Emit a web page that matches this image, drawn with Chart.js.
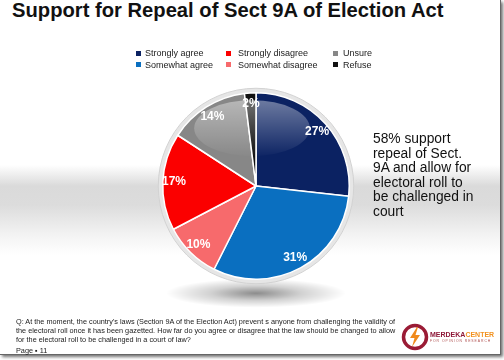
<!DOCTYPE html>
<html>
<head>
<meta charset="utf-8">
<script src="https://cdn.jsdelivr.net/npm/chart.js@4/dist/chart.umd.min.js"></script>
<style>
  html, body { margin:0; padding:0; }
  body { width:504px; height:360px; position:relative; overflow:hidden; background:#fff; font-family:"Liberation Sans", Arial, sans-serif; }
  #slide { position:absolute; left:0; top:0; width:500px; height:354px;
    background: linear-gradient(to bottom, #fff 0px, #fff 165px, #dadada 186px, #dcdcdc 205px, #f3f3f3 235px, #fff 255px, #fff 354px);
    border-right:1px solid #666; border-bottom:1px solid #666;
    box-shadow: 2px 2px 3px rgba(0,0,0,0.55); }
  #title { position:absolute; left:12px; top:0px; font-weight:bold; font-size:20.2px; line-height:20px; color:#111; white-space:nowrap; }
  #chart { position:absolute; left:0; top:0; }
  .leg { position:absolute; font-size:9px; line-height:10px; color:#222; white-space:nowrap; }
  .sw { position:absolute; width:5px; height:5px; }
  #note { position:absolute; left:373px; top:132px; font-size:13.8px; line-height:14.6px; color:#111; }
  #q { position:absolute; left:16px; top:317px; font-size:7.3px; line-height:9.2px; color:#222; white-space:nowrap; }
  #page { position:absolute; left:16px; top:346px; font-size:7.3px; line-height:9px; color:#222; }
  #logo { position:absolute; left:401px; top:323px; }
  #lt1 { position:absolute; left:430px; top:331px; font-size:7px; font-weight:bold; line-height:8px; white-space:nowrap; }
  #lt2 { position:absolute; left:430px; top:339px; font-size:3.4px; line-height:4px; letter-spacing:0.95px; color:#b05050; white-space:nowrap; }
</style>
</head>
<body>
<div id="slide"></div>
<div id="title">Support for Repeal of Sect 9A of Election Act</div>
<canvas id="chart" width="504" height="360"></canvas>
<div id="legend"></div>
<div id="note"></div>
<div id="q"></div>
<div id="page">Page ▪ 11</div>
<svg id="logo" width="28" height="28" viewBox="0 0 28 28">
  <circle cx="14" cy="14" r="11.5" fill="none" stroke="#9a1b35" stroke-width="3.5"/>
  <polygon points="16,4 9,15 13.5,15 11,24 19,12 14.5,12 17,4" fill="#f08a1c"/>
</svg>
<div id="lt1"><span style="color:#8e1838">MERDEKA</span><span style="color:#f29220">CENTER</span></div>
<div id="lt2">FOR OPINION RESEARCH</div>
<script>
// ---- data ----
const categories = ["Strongly agree", "Somewhat agree", "Somewhat disagree", "Strongly disagree", "Unsure", "Refuse"];
const values = [27, 31, 10, 17, 14, 2];
const colors = ["#0b2262", "#0a6fc0", "#f76a6c", "#fb0000", "#878787", "#111111"];
// legend order in three columns (index into categories)
const legendOrder = [0, 3, 4, 1, 2, 5];
const noteLines = ["58% support", "repeal of Sect.", "9A and allow for", "electoral roll to", "be challenged in", "court"];
const questionLines = [
  "Q: At the moment, the country's laws (Section 9A of the Election Act) prevent s anyone from challenging the validity of",
  "the electoral roll once it has been gazetted. How far do you agree or disagree that the law should be changed to allow",
  "for the electoral roll to be challenged in a court of law?"
];

// ---- html texts ----
document.getElementById('note').innerHTML = noteLines.join('<br>');
document.getElementById('q').innerHTML = questionLines.join('<br>');
const legCols = [{sx:136, tx:145}, {sx:226, tx:238}, {sx:333, tx:343}];
const legRows = [48, 59.5];
const legend = document.getElementById('legend');
legendOrder.forEach((idx, k) => {
  const col = legCols[k % 3], row = legRows[Math.floor(k / 3)];
  const sw = document.createElement('div');
  sw.className = 'sw';
  sw.style.left = col.sx + 'px'; sw.style.top = (row + 2.5) + 'px';
  sw.style.background = colors[idx];
  legend.appendChild(sw);
  const t = document.createElement('div');
  t.className = 'leg';
  t.style.left = col.tx + 'px'; t.style.top = row + 'px';
  t.textContent = categories[idx];
  legend.appendChild(t);
});

// ---- plugins ----
const decor = {
  id: 'decor',
  beforeDatasetsDraw(chart) {
    const arc = chart.getDatasetMeta(0).data[0];
    if (!arc) return;
    const {x, y, outerRadius} = arc.getProps(['x', 'y', 'outerRadius'], true);
    const ctx = chart.ctx;
    ctx.save();
    // floor shadow
    const sy = y + outerRadius + 14;
    const g = ctx.createRadialGradient(x, sy, 0, x, sy, 90);
    g.addColorStop(0, 'rgba(0,0,0,0.45)');
    g.addColorStop(0.5, 'rgba(0,0,0,0.18)');
    g.addColorStop(1, 'rgba(0,0,0,0)');
    ctx.translate(x, sy); ctx.scale(1, 0.16); ctx.translate(-x, -sy);
    ctx.fillStyle = g;
    ctx.beginPath(); ctx.arc(x, sy, 90, 0, Math.PI * 2); ctx.fill();
    ctx.restore();
    // rim
    ctx.save();
    ctx.beginPath(); ctx.arc(x, y, outerRadius + 4.5, 0, Math.PI * 2);
    ctx.fillStyle = '#e6e6e6'; ctx.fill();
    ctx.lineWidth = 1; ctx.strokeStyle = '#d2d2d2'; ctx.stroke();
    ctx.restore();
  },
  afterDatasetsDraw(chart) {
    const meta = chart.getDatasetMeta(0);
    const ctx = chart.ctx;
    const a0 = meta.data[0];
    const {x, y, outerRadius} = a0.getProps(['x', 'y', 'outerRadius'], true);
    // gloss
    ctx.save();
    ctx.beginPath(); ctx.arc(x, y, outerRadius, 0, Math.PI * 2); ctx.clip();
    const gy = y - outerRadius * 0.62;
    const gg = ctx.createLinearGradient(0, y - outerRadius, 0, y - outerRadius * 0.3);
    gg.addColorStop(0, 'rgba(255,255,255,0.45)');
    gg.addColorStop(1, 'rgba(255,255,255,0.0)');
    ctx.fillStyle = gg;
    ctx.beginPath(); ctx.ellipse(x - 4, gy, outerRadius * 0.62, outerRadius * 0.3, 0, 0, Math.PI * 2); ctx.fill();
    ctx.restore();
    // labels
    ctx.save();
    ctx.font = 'bold 12px "Liberation Sans", Arial, sans-serif';
    ctx.fillStyle = '#fff';
    ctx.textAlign = 'center'; ctx.textBaseline = 'middle';
    meta.data.forEach((arc, i) => {
      const p = arc.getProps(['startAngle', 'endAngle', 'outerRadius', 'x', 'y'], true);
      const mid = (p.startAngle + p.endAngle) / 2;
      const r = p.outerRadius * 0.88;
      ctx.fillText(values[i] + '%', p.x + Math.cos(mid) * r, p.y + Math.sin(mid) * r);
    });
    ctx.restore();
  }
};

new Chart(document.getElementById('chart'), {
  type: 'pie',
  data: {
    labels: categories,
    datasets: [{ data: values, backgroundColor: colors, borderColor: '#ffffff', borderWidth: 1.5 }]
  },
  options: {
    responsive: false,
    animation: false,
    layout: { padding: { left: 162, right: 154, top: 92, bottom: 80 } },
    plugins: { legend: { display: false }, tooltip: { enabled: false } }
  },
  plugins: [decor]
});
</script>
</body>
</html>
